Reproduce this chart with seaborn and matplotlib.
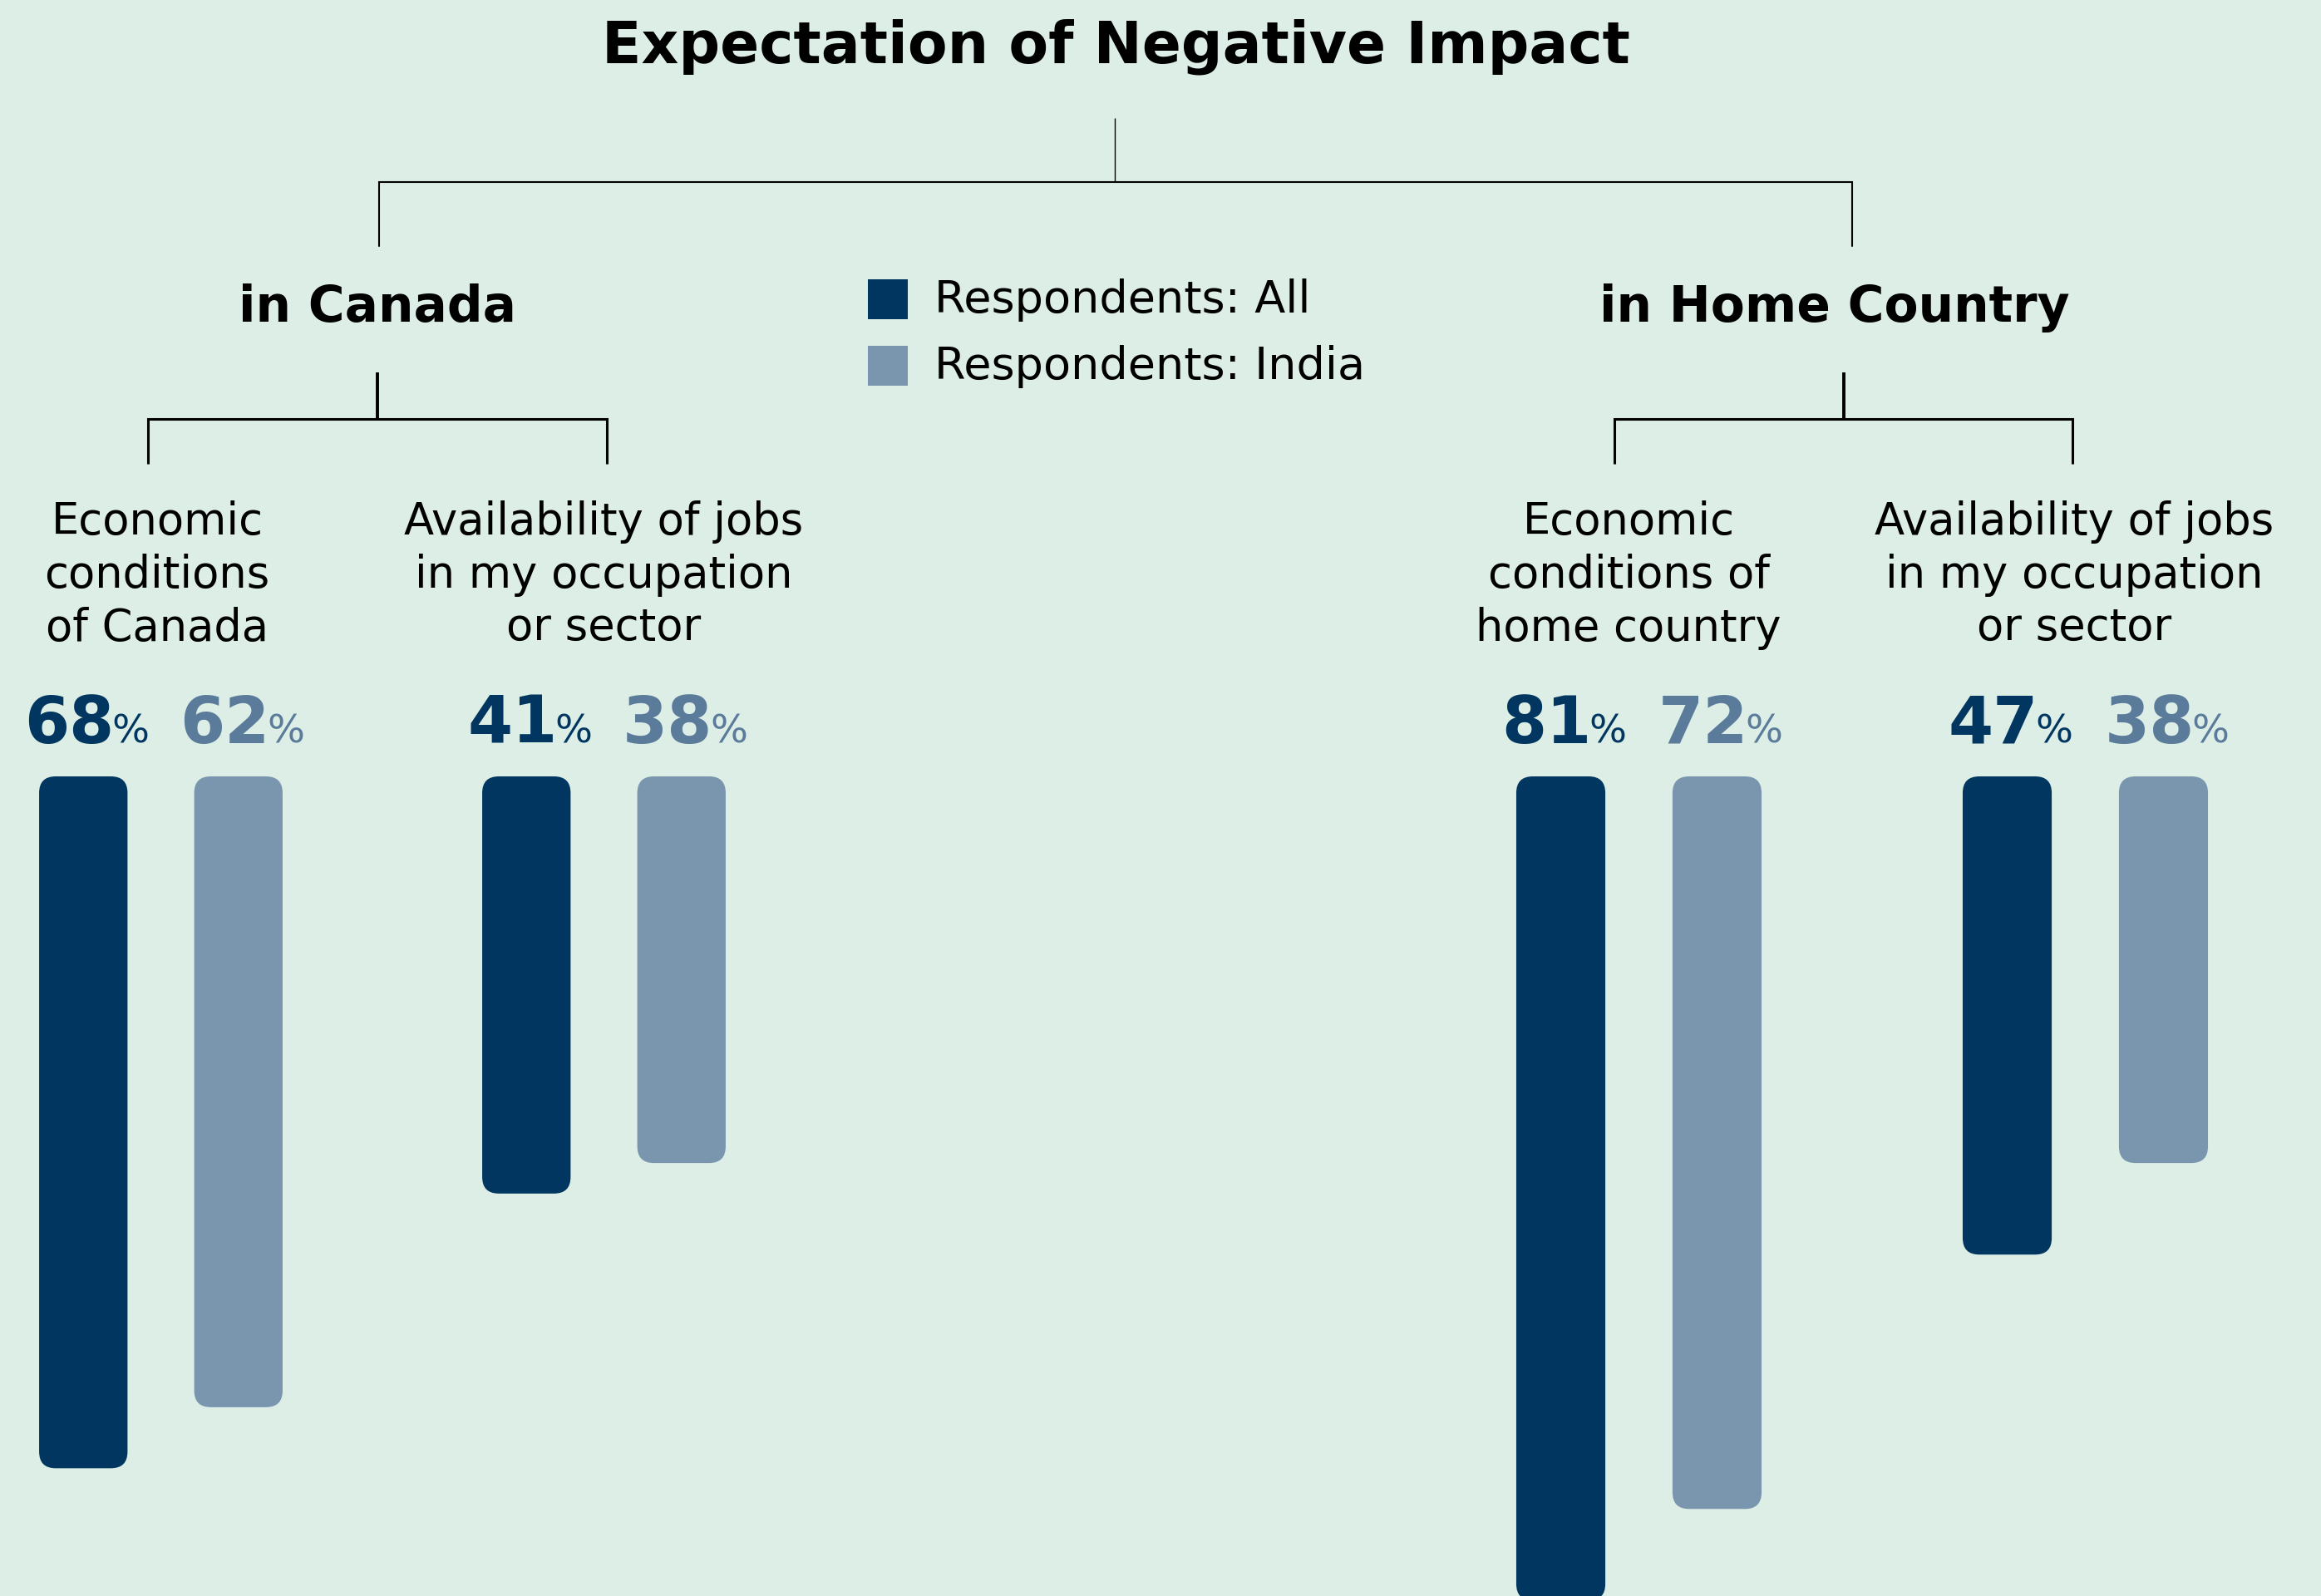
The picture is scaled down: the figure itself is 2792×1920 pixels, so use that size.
"""Expectation of Negative Impact -- grouped bars hanging from a tree header."""
import pandas as pd
import matplotlib
matplotlib.use("Agg")
import matplotlib.pyplot as plt
from matplotlib.patches import FancyBboxPatch, Rectangle
import seaborn as sns

TITLE = "Expectation of Negative Impact"
REGIONS = ["in Canada", "in Home Country"]
GROUPS = ["Respondents: All", "Respondents: India"]
TOPICS_CANADA = ["Economic\nconditions\nof Canada",
                 "Availability of jobs\nin my occupation\nor sector"]
TOPICS_HOME = ["Economic\nconditions of\nhome country",
               "Availability of jobs\nin my occupation\nor sector"]
ALL_CANADA = [68, 41]
INDIA_CANADA = [62, 38]
ALL_HOME = [81, 47]
INDIA_HOME = [72, 38]

BG = "#DDEEE6"
DARK = "#00365F"
LIGHT = "#7A96AF"
LIGHT_TEXT = "#5B7B9B"

W, H = 2792, 1920
DPI = 200
BAR_TOP = 934          # px, where every bar starts
PX_PER_PCT = 12.24     # px per percentage point
RADIUS_PX = 20

sns.set_style("white")
plt.rcParams["font.family"] = ["DejaVu Sans"]
plt.rcParams["text.color"] = "black"

fig = plt.figure(figsize=(W / DPI, H / DPI), dpi=DPI, facecolor=BG)

# overlay in pixel units for the header, tree and labels
ov = fig.add_axes([0, 0, 1, 1], zorder=2)
ov.set_xlim(0, W)
ov.set_ylim(H, 0)
ov.axis("off")


def make_df(topics, all_vals, india_vals):
    return pd.DataFrame({
        "topic": topics * 2,
        "group": [GROUPS[0]] * 2 + [GROUPS[1]] * 2,
        "value": all_vals + india_vals,
    })


# ------------------------------------------------------------------ #
#  Bars                                                               #
# ------------------------------------------------------------------ #
ax_h = (H - BAR_TOP) / H
panels = [
    # (topics, all, india, axes left px, axes right px, first pair centre px, pair step px)
    (TOPICS_CANADA, ALL_CANADA, INDIA_CANADA, 0, W / 2, 193.5, 533),
    (TOPICS_HOME, ALL_HOME, INDIA_HOME, W / 2, W, 1971.5, 537),
]

value_labels = []
for topics, all_vals, india_vals, x0, x1, c0, step in panels:
    ax = fig.add_axes([x0 / W, 0, (x1 - x0) / W, ax_h], zorder=1)
    df = make_df(topics, all_vals, india_vals)
    sns.barplot(data=df, x="topic", y="value", hue="group", order=topics,
                hue_order=GROUPS, palette=[DARK, LIGHT], saturation=1,
                width=0.70, gap=0.43, legend=False, ax=ax)
    ax.set_xlim((x0 - c0) / step, (x1 - c0) / step)
    ax.set_ylim((H - BAR_TOP) / PX_PER_PCT, 0)
    ax.axis("off")

    r = RADIUS_PX / step
    aspect = step / PX_PER_PCT
    for gi, cont in enumerate(ax.containers):
        for bar, val in zip(cont, df[df["group"] == GROUPS[gi]]["value"]):
            bx, by = bar.get_x(), bar.get_y()
            bw, bh = bar.get_width(), bar.get_height()
            fc = bar.get_facecolor()
            bar.remove()
            ax.add_patch(FancyBboxPatch(
                (bx, by), bw, bh,
                boxstyle=f"round,pad=0,rounding_size={r}",
                mutation_aspect=aspect, fc=fc, ec="none"))
            cx = ax.transData.transform((bx + bw / 2, 0))[0]
            value_labels.append((cx, val, DARK if gi == 0 else LIGHT_TEXT))

# value labels: bold number + small regular %
texts = []
for cx, val, col in value_labels:
    t1 = ov.text(cx, 894, f"{val}", fontsize=28, fontweight="bold",
                 color=col, ha="left", va="baseline")
    t2 = ov.text(cx, 894, "%", fontsize=17, color=col,
                 ha="left", va="baseline")
    texts.append((cx, t1, t2))

fig.canvas.draw()
rend = fig.canvas.get_renderer()
gap = -3
for cx, t1, t2 in texts:
    w1 = t1.get_window_extent(rend).width
    w2 = t2.get_window_extent(rend).width
    start = cx + 4 - (w1 + gap + w2) / 2
    t1.set_x(start)
    t2.set_x(start + w1 + gap)

# ------------------------------------------------------------------ #
#  Header, tree and legend                                            #
# ------------------------------------------------------------------ #
ov.text(1342, 76, TITLE, fontsize=25, fontweight="bold",
        ha="center", va="baseline")

# main tree
ov.plot([1341, 1341], [142, 219], color="black", lw=0.5, solid_capstyle="butt")
ov.plot([456, 456, 2228, 2228], [296, 219, 219, 296], color="black",
        lw=0.75, solid_joinstyle="miter")

# region headers
ov.text(454, 387, REGIONS[0], fontsize=21.5, fontweight="bold",
        ha="center", va="baseline")
ov.text(2207, 387, REGIONS[1], fontsize=21.5, fontweight="bold",
        ha="center", va="baseline")

# sub trees
for stem_x, left, right in [(454, 178, 730), (2218, 1942, 2493)]:
    ov.plot([stem_x, stem_x], [448, 504], color="black", lw=1.4,
            solid_capstyle="butt")
    ov.plot([left, left, right, right], [558, 504, 504, 558], color="black",
            lw=1.1, solid_joinstyle="miter", solid_capstyle="butt")

# topic labels, one line at a time
label_centres = [189, 726.5, 1959, 2495.5]
for cx, lab in zip(label_centres, TOPICS_CANADA + TOPICS_HOME):
    for k, line in enumerate(lab.split("\n")):
        ov.text(cx, 643 + 64 * k, line, fontsize=19, ha="center",
                va="baseline")

# legend
for k, (lab, col) in enumerate(zip(GROUPS, [DARK, LIGHT])):
    ov.add_patch(Rectangle((1044, 336 + 80 * k), 48, 48, fc=col, ec="none"))
    ov.text(1124, 376 + 80 * k, lab, fontsize=19.5, ha="left", va="baseline")

fig.savefig("out.png", dpi=DPI, facecolor=BG)
